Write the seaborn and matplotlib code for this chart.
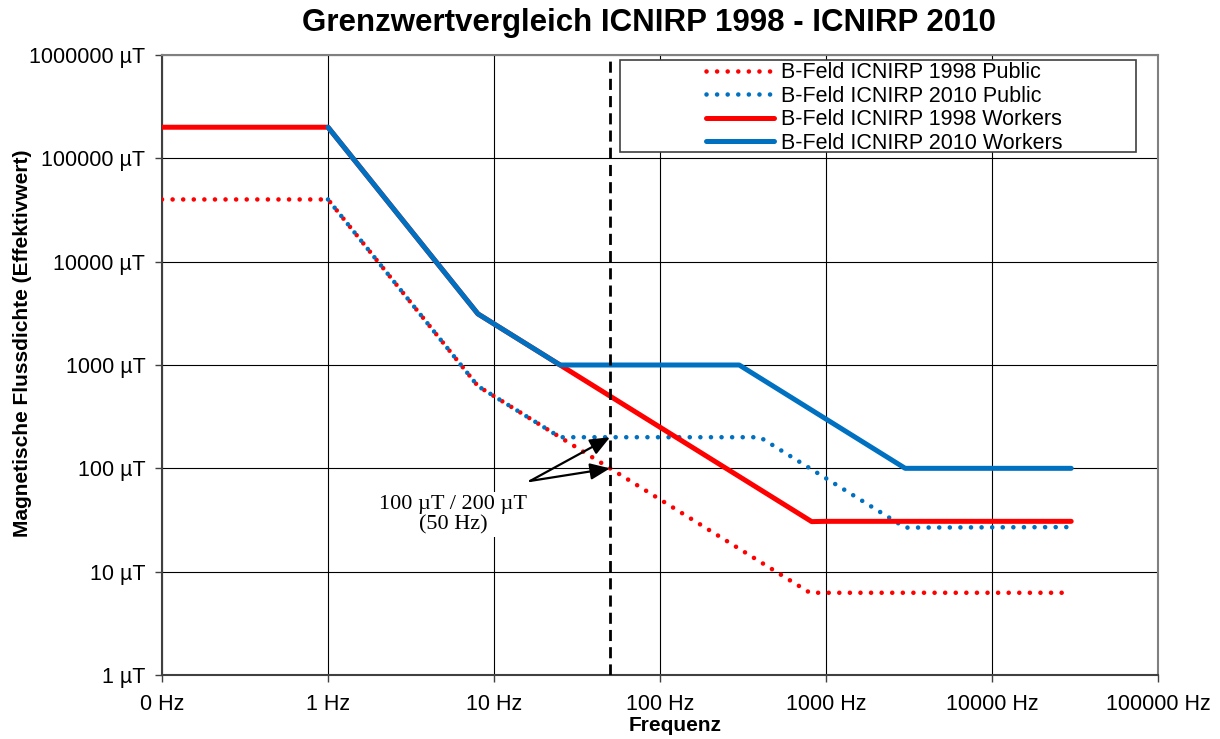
import matplotlib
matplotlib.use("Agg")
import matplotlib.pyplot as plt
from matplotlib.patches import Rectangle
import seaborn as sns

# ---------------- data ----------------
f_1998_public = [0.1, 1, 8, 800, 30000]
b_1998_public = [40000, 40000, 625, 6.25, 6.25]

f_2010_public = [1, 8, 25, 400, 3000, 30000]
b_2010_public = [40000, 625, 200, 200, 26.7, 27]

f_1998_workers = [0.1, 1, 8, 25, 820, 1000, 30000]
b_1998_workers = [200000, 200000, 3125, 1000, 30.5, 30.7, 30.7]

f_2010_workers = [1, 8, 25, 300, 3000, 30000]
b_2010_workers = [200000, 3125, 1000, 1000, 100, 100]

x_ticks = [0.1, 1, 10, 100, 1000, 10000, 100000]
x_ticklabels = ["0 Hz", "1 Hz", "10 Hz", "100 Hz", "1000 Hz", "10000 Hz", "100000 Hz"]
y_ticks = [1, 10, 100, 1000, 10000, 100000, 1000000]
y_ticklabels = ["1 µT", "10 µT", "100 µT", "1000 µT", "10000 µT", "100000 µT", "1000000 µT"]

labels = ["B-Feld ICNIRP 1998 Public", "B-Feld ICNIRP 2010 Public",
          "B-Feld ICNIRP 1998 Workers", "B-Feld ICNIRP 2010 Workers"]

marker_freq = 50
annot_values = [200, 100]

# ---------------- style ----------------
sns.set_style("white")
plt.rcParams["font.family"] = ["Liberation Sans", "DejaVu Sans"]
plt.rcParams["text.color"] = "black"
plt.rcParams["axes.labelcolor"] = "black"
plt.rcParams["xtick.color"] = "black"
plt.rcParams["ytick.color"] = "black"

RED = "#FF0000"
BLUE = "#0070C0"

fig = plt.figure(figsize=(12.2, 7.39), dpi=100)
ax = fig.add_axes([162 / 1220, 1 - 675 / 739, 996 / 1220, 620 / 739])
ax.set_xscale("log")
ax.set_yscale("log")

dot = (0, (0.01, 2.3))
sns.lineplot(x=f_1998_public, y=b_1998_public, ax=ax, color=RED, linewidth=3.3,
             linestyle=dot, dash_capstyle="round", label=labels[0], zorder=3)
sns.lineplot(x=f_2010_public, y=b_2010_public, ax=ax, color=BLUE, linewidth=3.3,
             linestyle=dot, dash_capstyle="round", label=labels[1], zorder=3)
sns.lineplot(x=f_1998_workers, y=b_1998_workers, ax=ax, color=RED, linewidth=3.6,
             solid_capstyle="round", label=labels[2], zorder=3)
sns.lineplot(x=f_2010_workers, y=b_2010_workers, ax=ax, color=BLUE, linewidth=3.6,
             solid_capstyle="round", label=labels[3], zorder=3)

ax.axvline(marker_freq, color="black", linewidth=2.0, linestyle=(0, (4, 2.2)), zorder=3.5)

ax.set_xlim(0.1, 100000)
ax.set_ylim(1, 1000000)
ax.set_xticks(x_ticks)
ax.set_xticklabels(x_ticklabels)
ax.set_yticks(y_ticks)
ax.set_yticklabels(y_ticklabels)
ax.minorticks_off()
ax.tick_params(axis="both", which="major", labelsize=15.5, direction="out",
               length=5, width=1, color="#404040", labelcolor="black",
               bottom=True, left=True)
ax.tick_params(axis="x", pad=9)
ax.tick_params(axis="y", pad=7)

ax.grid(True, which="major", color="black", linewidth=0.8)
ax.set_axisbelow(True)

for side in ["left", "bottom"]:
    ax.spines[side].set_color("#404040")
    ax.spines[side].set_linewidth(1.5)
for side in ["top", "right"]:
    ax.spines[side].set_color("#808080")
    ax.spines[side].set_linewidth(1.5)

# labels
ax.set_ylabel("Magnetische Flussdichte (Effektivwert)", fontsize=15, fontweight="bold")
ax.yaxis.set_label_coords((32 - 162) / 996, 0.535)
ax.set_xlabel("Frequenz", fontsize=15, fontweight="bold")
ax.xaxis.set_label_coords((675 - 162) / 996, (675 - 716) / 620)
fig.text(649 / 1220, 1 - 23 / 739, "Grenzwertvergleich ICNIRP 1998 - ICNIRP 2010",
         fontsize=22.5, fontweight="bold", ha="center", va="center")

# annotation
for val in annot_values:
    ax.annotate("", xy=(marker_freq, val), xytext=(16.5, 75.5),
                arrowprops=dict(arrowstyle="-|>,head_length=0.6,head_width=0.25",
                                color="black", lw=1.6, mutation_scale=20,
                                shrinkA=0, shrinkB=0), zorder=4)
ax.text(5.66, 35.4, "100 µT / 200 µT\n(50 Hz)", family=["Liberation Serif", "DejaVu Serif"],
        fontsize=16, ha="center", va="center", linespacing=1.1,
        bbox=dict(facecolor="white", edgecolor="none", pad=2), zorder=4)

# legend with a framed white box
x0, x1 = (620 - 162) / 996, (1136 - 162) / 996
y0, y1 = (675 - 152) / 620, (675 - 60) / 620
ax.add_patch(Rectangle((x0, y0), x1 - x0, y1 - y0, transform=ax.transAxes,
                       facecolor="white", edgecolor="#404040", linewidth=1.2, zorder=5))
leg = ax.legend(loc="center", bbox_to_anchor=((x0 + x1) / 2 + 0.006, (y0 + y1) / 2 - 2 / 620),
                frameon=False, fontsize=15.5, handlelength=3.2, handletextpad=0.3,
                labelspacing=0.12, borderpad=0.1)
leg.set_zorder(6)

fig.savefig("out.png", dpi=100)
